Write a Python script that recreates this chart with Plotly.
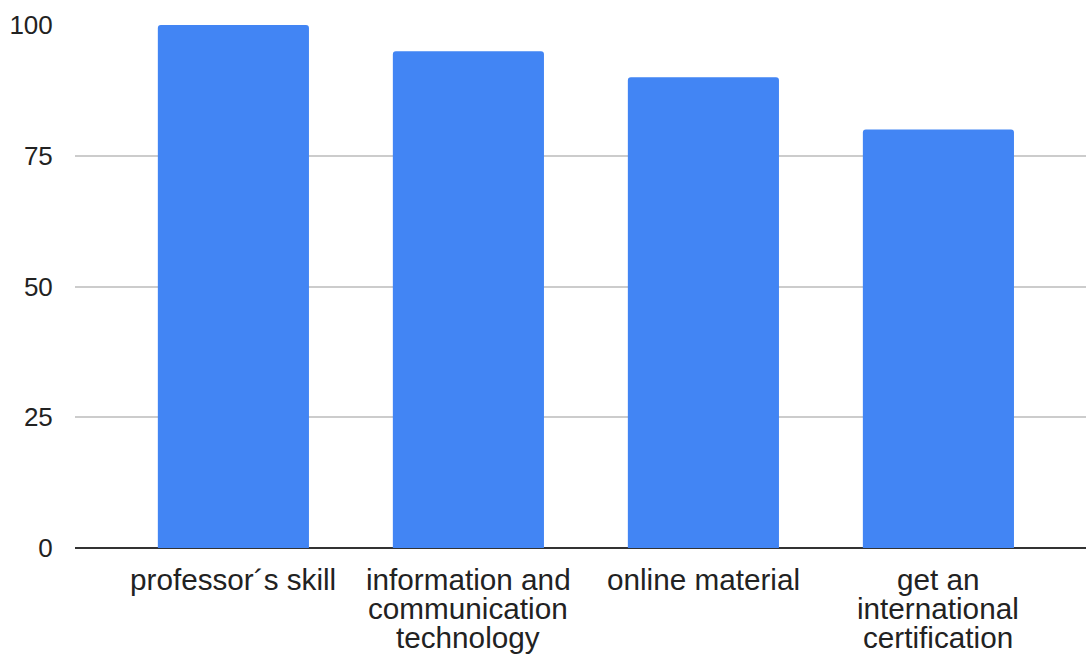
import plotly.graph_objects as go

categories = [
    "professor´s skill",
    "information and communication technology",
    "online material",
    "get an international certification",
]
category_lines = [
    ["professor´s skill"],
    ["information and", "communication", "technology"],
    ["online material"],
    ["get an", "international", "certification"],
]
values = [100, 95, 90, 80]
y_ticks = [0, 25, 50, 75, 100]

fig = go.Figure(
    go.Bar(
        x=categories,
        y=values,
        marker=dict(color="#4285F4", line=dict(width=0), cornerradius=3),
        width=0.643,
    )
)

# Category labels under each bar, one annotation per line for tight line spacing
line_gap = 29
for cat, lines in zip(categories, category_lines):
    for i, text in enumerate(lines):
        fig.add_annotation(
            x=cat,
            xref="x",
            y=0,
            yref="paper",
            yanchor="middle",
            xanchor="center",
            yshift=-(31 + i * line_gap),
            text=text,
            showarrow=False,
            font=dict(family="Liberation Sans, Arial, sans-serif", size=29.7, color="#222222"),
        )

fig.update_layout(
    width=1086,
    height=655,
    margin=dict(l=75, r=0, t=25, b=107),
    paper_bgcolor="white",
    plot_bgcolor="white",
    showlegend=False,
    font=dict(family="Liberation Sans, Arial, sans-serif", size=26, color="#222222"),
)

fig.update_xaxes(
    range=[-0.674, 3.628],
    showgrid=False,
    showline=False,
    showticklabels=False,
    ticks="",
)

fig.update_yaxes(
    range=[0, 100],
    tickvals=y_ticks,
    showgrid=True,
    gridcolor="#cccccc",
    gridwidth=2,
    zeroline=True,
    zerolinecolor="#333333",
    zerolinewidth=2,
    showline=False,
    ticks="outside",
    ticklen=16,
    tickcolor="rgba(0,0,0,0)",
)

fig.write_html("out.html")
